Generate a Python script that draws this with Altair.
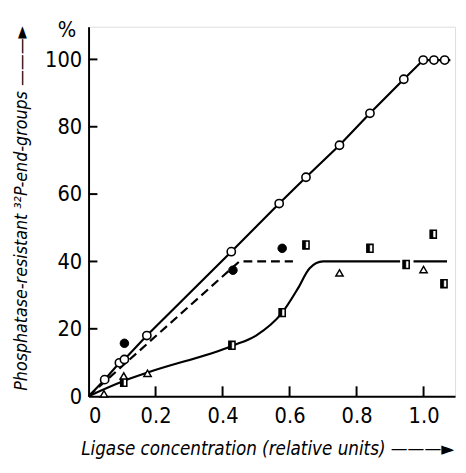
import altair as alt
import pandas as pd

# ---- data ----
open_x = [0.048, 0.092, 0.107, 0.174, 0.426, 0.569, 0.649, 0.749, 0.840, 0.941, 0.999, 1.031, 1.063]
open_y = [4.9, 9.9, 10.9, 18.0, 42.9, 57.2, 65.0, 74.5, 84.0, 94.1, 99.8, 99.8, 99.8]
open_line_x = [0.0, 0.048, 0.092, 0.107, 0.174, 0.426, 0.569, 0.649, 0.749, 0.840, 0.941, 0.999, 1.08]
open_line_y = [0.0, 4.9, 9.9, 10.9, 18.0, 42.9, 57.2, 65.0, 74.5, 84.0, 94.1, 99.8, 99.8]

filled_x = [0.107, 0.431, 0.578]
filled_y = [15.7, 37.4, 43.9]
dash_x = [0.0, 0.45, 0.61]
dash_y = [0.0, 40.0, 40.0]

square_x = [0.105, 0.428, 0.578, 0.649, 0.840, 0.948, 1.029, 1.061]
square_y = [4.1, 15.1, 24.8, 44.9, 43.9, 39.1, 48.1, 33.4]
tri_x = [0.046, 0.105, 0.176, 0.749, 1.000]
tri_y = [0.7, 6.0, 6.8, 36.6, 37.6]

curve_x = [0.0, 0.105, 0.176, 0.43, 0.50, 0.578, 0.625, 0.66, 0.70, 0.93]
curve_y = [0.0, 4.5, 7.0, 15.0, 18.0, 24.8, 32.0, 38.0, 40.0, 40.0]
curve2_x = [0.97, 1.07]
curve2_y = [40.0, 40.0]

x_ticks = [0.2, 0.4, 0.6, 0.8, 1.0]
y_ticks = [20, 40, 60, 80, 100]

X_DOMAIN = [0, 1.094]
Y_DOMAIN = [0, 109.7]
W, H = 373, 376
FONT = "Liberation Sans Narrow, DejaVu Sans Condensed, Liberation Sans, sans-serif"

xs = alt.Scale(domain=X_DOMAIN, nice=False, zero=False)
ys = alt.Scale(domain=Y_DOMAIN, nice=False, zero=False)

x_axis = alt.Axis(
    values=[0, 0.2, 0.4, 0.6, 0.8, 1.0],
    labelExpr="datum.value == 0 ? '0' : format(datum.value, '.1f')",
    grid=False, ticks=False, labelPadding=10, labelFontSize=22, labelFont=FONT,
    labelColor="black", domainColor="black", domainWidth=2,
    title="Ligase concentration (relative units)  ———►",
    titleFont=FONT, titleFontSize=19, titleFontStyle="italic", titleFontWeight="normal",
    titleColor="black", titleAlign="left", titleAnchor="start",
    titleX=-8, titleY=59, titleBaseline="alphabetic",
)
y_axis = alt.Axis(
    values=[0, 20, 40, 60, 80, 100],
    grid=False, ticks=False, labelPadding=7, labelFontSize=22, labelFont=FONT,
    labelColor="black", domainColor="black", domainWidth=2,
    title="Phosphatase-resistant ³²P-end-groups  ———►",
    titleFont=FONT, titleFontSize=18, titleFontStyle="italic", titleFontWeight="normal",
    titleColor="black", titleAngle=270, titleAlign="left", titleAnchor="start",
    titleX=-63, titleY=370, titleBaseline="alphabetic",
)

df_open = pd.DataFrame({"x": open_x, "y": open_y})
df_open_line = pd.DataFrame({"x": open_line_x, "y": open_line_y})
df_filled = pd.DataFrame({"x": filled_x, "y": filled_y})
df_dash = pd.DataFrame({"x": dash_x, "y": dash_y})
df_sq = pd.DataFrame({"x": square_x, "y": square_y})
df_tri = pd.DataFrame({"x": tri_x, "y": tri_y})
df_curve = pd.DataFrame({
    "x": curve_x + curve2_x,
    "y": curve_y + curve2_y,
    "seg": ["a"] * len(curve_x) + ["b"] * len(curve2_x),
})
df_xt = pd.DataFrame({"v": x_ticks})
df_yt = pd.DataFrame({"v": y_ticks})

X = alt.X("x:Q", scale=xs, axis=x_axis)
Y = alt.Y("y:Q", scale=ys, axis=y_axis)

open_line = alt.Chart(df_open_line).mark_line(color="black", strokeWidth=2.2).encode(x=X, y=Y)
dash_line = alt.Chart(df_dash).mark_line(color="black", strokeWidth=2.2, strokeDash=[9, 5]).encode(x=X, y=Y)
curve = alt.Chart(df_curve).mark_line(color="black", strokeWidth=2.2, interpolate="monotone").encode(
    x=X, y=Y, detail="seg:N")

open_pts = alt.Chart(df_open).mark_point(
    shape="circle", size=70, filled=True, fill="white", stroke="black", strokeWidth=1.6, opacity=1
).encode(x=X, y=Y)
filled_pts = alt.Chart(df_filled).mark_point(
    shape="circle", size=75, filled=True, fill="black", stroke="black", strokeWidth=1, opacity=1
).encode(x=X, y=Y)
sq_pts = alt.Chart(df_sq).mark_point(
    shape="M-0.62,-0.8L0.62,-0.8L0.62,0.8L-0.62,0.8Z", size=100, filled=True, fill="white",
    stroke="black", strokeWidth=1.6, opacity=1
).encode(x=X, y=Y)
sq_half = alt.Chart(df_sq).mark_point(
    shape="M-0.62,-0.8L-0.05,-0.8L-0.05,0.8L-0.62,0.8Z", size=100, filled=True, fill="black",
    stroke="black", strokeWidth=0.5, opacity=1
).encode(x=X, y=Y)
tri_pts = alt.Chart(df_tri).mark_point(
    shape="triangle-up", size=55, filled=True, fill="white", stroke="black", strokeWidth=1.5, opacity=1
).encode(x=X, y=Y)

xticks = alt.Chart(df_xt).mark_rule(color="black", strokeWidth=2).encode(
    x=alt.X("v:Q", scale=xs), y=alt.value(H - 10), y2=alt.value(H))
yticks = alt.Chart(df_yt).mark_rule(color="black", strokeWidth=2).encode(
    y=alt.Y("v:Q", scale=ys), x=alt.value(0), x2=alt.value(9))

pct = alt.Chart(pd.DataFrame({"t": ["%"]})).mark_text(
    font=FONT, fontSize=22, color="black", align="center", baseline="middle"
).encode(text="t:N", x=alt.value(-22), y=alt.value(3))

chart = alt.layer(
    open_line, dash_line, curve, xticks, yticks,
    open_pts, filled_pts, sq_pts, sq_half, tri_pts, pct
).properties(
    width=W, height=H,
    autosize=alt.AutoSizeParams(type="none"),
    padding={"left": 82, "top": 15, "right": 3, "bottom": 66},
).configure_view(stroke="black", strokeWidth=1.5).configure(background="white")

chart.save("out.html", embed_options={"renderer": "svg", "actions": False})
